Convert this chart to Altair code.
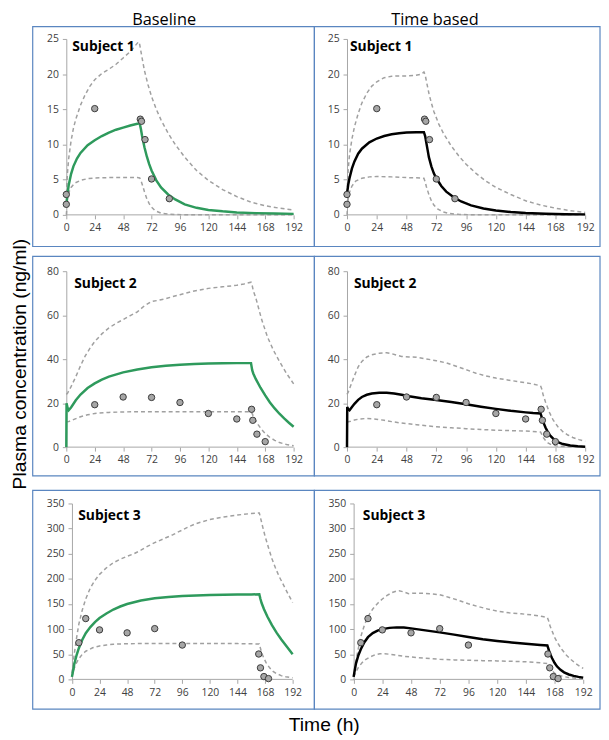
import altair as alt
import pandas as pd

FONT = "Open Sans"
TITLE_FONT = "Liberation Sans"
BLUE = "#5a86c0"
GREEN = "#2e9a5c"
BLACK = "#000000"
DASH_GRAY = "#a0a0a0"
AXIS_GRAY = "#a6a6a6"
LABEL_GRAY = "#404040"

COLUMN_TITLES = ["Baseline", "Time based"]
SUBJECT_LABELS = ["Subject 1", "Subject 2", "Subject 3"]
Y_TITLE = "Plasma concentration (ng/ml)"
X_TITLE = "Time (h)"
TIME_TICKS = [0, 24, 48, 72, 96, 120, 144, 168, 192]
Y_TICKS_S1 = [0, 5, 10, 15, 20, 25]
Y_TICKS_S2 = [0, 20, 40, 60, 80]
Y_TICKS_S3 = [0, 50, 100, 150, 200, 250, 300, 350]

# observed concentrations (same for both columns)
S1_OBS_T = [0, 0, 24, 62.5, 63.5, 66.5, 72, 87]
S1_OBS_C = [1.5, 2.9, 15.1, 13.6, 13.3, 10.7, 5.1, 2.3]
S2_OBS_T = [24, 48, 72, 96, 120, 144, 156.5, 157.5, 161, 168]
S2_OBS_C = [19.3, 22.8, 22.6, 20.3, 15.3, 12.8, 17.2, 12.2, 5.9, 2.5]
S3_OBS_T = [6, 12, 24, 48, 72, 96, 162.5, 164, 167, 171]
S3_OBS_C = [73, 121, 98.5, 92.6, 101, 68.3, 50.5, 23, 5.6, 1.6]

# model curves as (time, concentration)
S1_BASE_MEAN = [(0, 1.5), (1, 3.0), (2, 4.2), (4, 5.8), (6, 6.9), (9, 8.0), (12, 8.8), (18, 9.9),
                (24, 10.6), (30, 11.2), (36, 11.7), (42, 12.1), (48, 12.4), (54, 12.7), (60, 12.95),
                (62, 13.0), (63, 12.2), (64, 11.2), (66, 9.6), (68, 8.3), (70, 7.2), (72, 6.3),
                (76, 4.9), (80, 3.9), (86, 2.9), (92, 2.2), (100, 1.5), (110, 1.0), (120, 0.7),
                (132, 0.5), (144, 0.35), (160, 0.25), (176, 0.18), (192, 0.14)]
S1_BASE_UPPER = [(0, 3), (1, 6), (2, 8), (4, 10.5), (6, 12.3), (8, 13.6), (12, 15.6), (16, 17.1),
                 (20, 18.3), (24, 19.2), (30, 20.1), (36, 20.7), (42, 21.4), (48, 22.3), (54, 23.2),
                 (58, 24.0), (61, 24.6), (62, 24.2), (64, 22.3), (66, 20.5), (69, 18.5), (72, 16.8),
                 (76, 15.0), (80, 13.5), (86, 11.6), (92, 10.0), (100, 8.2), (110, 6.3), (120, 4.9),
                 (132, 3.6), (144, 2.6), (156, 1.8), (168, 1.3), (180, 0.95), (192, 0.7)]
S1_BASE_LOWER = [(0, 0), (1, 2.3), (2, 3.1), (4, 3.9), (7, 4.5), (12, 4.9), (18, 5.15), (24, 5.25),
                 (36, 5.3), (48, 5.3), (60, 5.3), (62, 5.25), (63, 4.9), (64, 4.4), (66, 3.3),
                 (68, 2.3), (70, 1.6), (72, 1.1), (75, 0.6), (80, 0.25), (88, 0.08), (100, 0.02),
                 (192, 0)]
S1_TIME_MEAN = [(0, 3.0), (1, 4.3), (2, 5.2), (4, 6.6), (6, 7.6), (9, 8.7), (12, 9.4), (18, 10.3),
                (24, 10.85), (30, 11.2), (36, 11.45), (42, 11.6), (48, 11.7), (56, 11.75), (62, 11.75),
                (63, 11.2), (64, 10.2), (65, 9.2), (66, 8.2), (68, 6.9), (70, 5.9), (72, 5.2),
                (76, 4.1), (80, 3.3), (86, 2.5), (92, 1.9), (100, 1.35), (110, 0.9), (120, 0.62),
                (132, 0.4), (144, 0.26), (160, 0.15), (176, 0.1), (192, 0.07)]
S1_TIME_UPPER = [(0, 3), (1, 6.5), (2, 8.5), (4, 10.8), (6, 12.5), (9, 14.4), (12, 15.9), (16, 17.3),
                 (20, 18.3), (24, 18.9), (30, 19.5), (36, 19.7), (42, 19.75), (48, 19.75), (54, 19.8),
                 (60, 20.0), (62, 20.3), (63, 19.9), (64, 19.0), (66, 17.3), (68, 15.9), (70, 14.7),
                 (74, 12.9), (78, 11.5), (84, 9.8), (90, 8.4), (96, 7.2), (104, 5.9), (112, 4.8),
                 (120, 3.9), (132, 2.9), (144, 2.0), (156, 1.4), (168, 0.95), (180, 0.6), (192, 0.35)]
S1_TIME_LOWER = [(0, 0), (1, 2.3), (2, 3.2), (4, 4.1), (7, 4.8), (12, 5.2), (18, 5.4), (24, 5.45),
                 (36, 5.4), (48, 5.3), (60, 5.25), (62, 5.2), (63, 4.7), (64, 4.0), (66, 2.9),
                 (68, 2.0), (70, 1.4), (73, 0.85), (77, 0.45), (82, 0.2), (90, 0.08), (100, 0.02),
                 (192, 0)]

S2_BASE_MEAN = [(0, 0), (0.2, 20), (1, 18), (2, 16.8), (4, 18.0), (8, 21.3), (12, 23.9), (18, 26.9),
                (24, 29.0), (30, 30.7), (36, 32.1), (48, 34.0), (60, 35.3), (72, 36.3), (84, 37.0),
                (96, 37.5), (108, 37.8), (120, 38.0), (132, 38.1), (144, 38.2), (156, 38.2),
                (157, 35.0), (158, 33.4), (160, 31.0), (164, 27.0), (168, 23.5), (172, 20.3),
                (176, 17.6), (180, 15.2), (184, 13.1), (188, 11.1), (192, 9.3)]
S2_BASE_UPPER = [(0, 24), (1, 24.5), (2, 25.5), (4, 27.5), (8, 32), (12, 37), (16, 41.5), (20, 45),
                 (24, 48), (30, 51.5), (36, 54.2), (42, 56.3), (48, 58), (54, 59.8), (60, 61.5),
                 (66, 64.3), (72, 66.2), (78, 66.8), (84, 67.5), (90, 68.5), (96, 69.3), (108, 71.0),
                 (120, 72.2), (132, 72.9), (144, 73.6), (150, 74.2), (156, 75.0), (157, 73.5),
                 (158, 71), (160, 68), (165, 58), (170, 50), (175, 44), (180, 39), (186, 33.5),
                 (192, 28.8)]
S2_BASE_LOWER = [(0, 11.5), (2, 11.6), (6, 12.5), (12, 13.8), (18, 14.7), (24, 15.3), (36, 15.8),
                 (48, 16.0), (60, 16.1), (156, 16.1), (157, 15.2), (158, 14), (160, 12), (162, 10.2),
                 (165, 8.0), (168, 6.2), (172, 4.4), (176, 3.1), (180, 2.1), (186, 1.2), (192, 0.6)]
S2_TIME_MEAN = [(0, 0), (0.2, 18.2), (1, 17.2), (2, 16.8), (4, 18.3), (6, 19.7), (9, 21.5), (12, 22.8),
                (16, 23.8), (20, 24.4), (26, 24.7), (32, 24.7), (38, 24.4), (44, 23.8), (50, 23.1),
                (60, 22.2), (72, 21.4), (84, 20.5), (96, 19.5), (108, 18.4), (120, 17.4), (132, 16.5),
                (144, 15.8), (150, 15.5), (156, 15.3), (157, 13.5), (158, 11.7), (160, 8.9),
                (162, 6.7), (164, 5.1), (167, 3.4), (170, 2.3), (174, 1.4), (180, 0.75), (186, 0.4),
                (192, 0.2)]
S2_TIME_UPPER = [(0, 24), (1, 25), (2, 26.5), (4, 29.5), (6, 32.5), (9, 36.5), (12, 39), (16, 41),
                 (20, 42), (26, 42.7), (32, 42.9), (36, 42.5), (40, 41.8), (44, 41.2), (50, 41.0),
                 (56, 40.9), (64, 40.1), (72, 39.3), (80, 38.3), (88, 36.8), (96, 35.2), (104, 33.6),
                 (112, 32.4), (120, 31.4), (132, 30.3), (144, 29.3), (150, 28.7), (156, 27.9),
                 (157, 26.5), (158, 24), (160, 20.5), (163, 16), (166, 12.5), (170, 9.3), (174, 7.0),
                 (178, 5.5), (182, 4.4), (187, 3.4), (192, 2.7)]
S2_TIME_LOWER = [(0, 11.4), (3, 11.8), (6, 12.3), (10, 12.8), (15, 13.0), (20, 12.9), (25, 12.6),
                 (30, 12.2), (36, 11.6), (42, 11.1), (48, 10.7), (56, 10.2), (64, 9.7), (72, 9.3),
                 (84, 8.8), (96, 8.4), (108, 8.0), (120, 7.7), (132, 7.5), (144, 7.3), (156, 6.9),
                 (157, 5.8), (158, 4.5), (160, 3.0), (162, 1.9), (165, 1.0), (170, 0.45), (180, 0.2),
                 (192, 0.1)]

S3_BASE_MEAN = [(0, 5), (1, 17), (2, 30), (4, 48), (6, 62), (9, 79), (12, 92), (16, 104), (20, 114),
                (24, 122), (30, 131), (36, 139), (42, 145), (48, 150), (60, 157), (72, 161.5),
                (84, 164), (96, 166), (108, 167), (120, 167.8), (132, 168.3), (144, 168.7), (156, 169),
                (163, 169.3), (164, 160), (165, 152), (167, 140), (170, 125), (174, 108), (178, 93),
                (182, 80), (186, 68), (189, 59), (192, 50)]
S3_BASE_UPPER = [(0, 12), (1, 30), (2, 50), (4, 82), (6, 110), (9, 138), (12, 160), (16, 182),
                 (20, 197), (24, 209), (30, 222), (36, 232), (42, 239), (48, 245), (54, 250), (60, 257),
                 (66, 265), (72, 272), (80, 280), (88, 288), (93, 294), (96, 297), (100, 302),
                 (108, 310), (120, 318), (132, 323), (144, 327), (156, 330), (163, 331), (164, 322),
                 (166, 303), (168, 285), (171, 262), (174, 240), (177, 222), (180, 206), (184, 188),
                 (188, 170), (192, 153)]
S3_BASE_LOWER = [(0, 5), (1, 14), (2, 22), (4, 33), (6, 41), (9, 50), (12, 56), (18, 63), (24, 66.5),
                 (30, 68.5), (36, 70), (48, 71), (72, 71.5), (96, 71.5), (120, 71.5), (144, 71.2),
                 (163, 70.5), (164, 62), (165, 53), (167, 42), (169, 33), (172, 23), (175, 16),
                 (178, 11.5), (182, 7.5), (186, 5.2), (192, 3.3)]
S3_TIME_MEAN = [(0, 5), (1, 19), (2, 32), (4, 48), (6, 60), (9, 74), (12, 84), (16, 92), (20, 97),
                (24, 100), (30, 102.5), (36, 103.5), (42, 103.2), (48, 101.5), (60, 97.5), (72, 93.5),
                (84, 89), (96, 84.5), (108, 80), (120, 76.5), (132, 73.5), (144, 71), (156, 68.5),
                (162, 67.5), (163, 60), (164, 52), (166, 42), (168, 33), (170, 26), (173, 19),
                (176, 14), (180, 9.8), (184, 7), (188, 5), (192, 3.5)]
S3_TIME_UPPER = [(0, 5), (1, 22), (2, 38), (4, 62), (6, 85), (9, 108), (12, 125), (16, 140),
                 (20, 151), (24, 160), (28, 167), (32, 172.5), (36, 176), (38, 176.5), (42, 174),
                 (46, 170.5), (50, 171.5), (56, 171.5), (64, 170.5), (72, 168.5), (80, 163), (88, 157),
                 (96, 150.5), (104, 145), (112, 140), (120, 136), (130, 132.5), (140, 130.5),
                 (150, 128), (158, 125), (162, 123), (163, 117), (164, 108), (166, 96), (168, 84),
                 (171, 71), (174, 60), (178, 48), (182, 39), (186, 31), (189, 26), (192, 21.7)]
S3_TIME_LOWER = [(0, 5), (2, 15), (4, 24), (7, 33), (10, 39.5), (14, 45), (18, 49), (22, 51),
                 (26, 51.2), (30, 50), (36, 48), (42, 46), (48, 44.5), (60, 42), (72, 40), (84, 38.8),
                 (96, 38), (108, 37.3), (120, 36.8), (132, 36), (144, 35), (156, 33), (162, 31.5),
                 (163, 27), (164, 23), (166, 17), (168, 12.5), (171, 8.5), (175, 5.8), (180, 3.8),
                 (186, 2.3), (192, 1.3)]


def curve_df(pairs, name):
    return pd.DataFrame({
        "t": [p[0] for p in pairs],
        "c": [p[1] for p in pairs],
        "s": name,
        "i": list(range(len(pairs))),
    })


def text_layer(label, x, y, size, weight="normal", align="left", baseline="alphabetic", angle=0,
               font=FONT):
    return alt.Chart(pd.DataFrame({"label": [label]})).mark_text(
        align=align, baseline=baseline, fontSize=size, fontWeight=weight,
        font=font, color=BLACK, angle=angle
    ).encode(x=alt.value(x), y=alt.value(y), text="label:N")


def spacer(x1, x2, y1, y2):
    # invisible rectangle that only reserves room at the left page edge
    return alt.Chart(pd.DataFrame({"a": [0]})).mark_rect(fillOpacity=0, strokeWidth=0).encode(
        x=alt.value(x1), x2=alt.value(x2), y=alt.value(y1), y2=alt.value(y2))


def panel(mean, upper, lower, obs_t, obs_c, line_color, y_ticks, width, x_min, y_offset,
          label, label_xy, box, extras):
    x_enc = alt.X("t:Q", scale=alt.Scale(domain=[x_min, 192], nice=False, zero=False),
                  axis=alt.Axis(values=TIME_TICKS, title=None, domain=False, labelFlush=False,
                                labelOverlap=False, format="d", labelPadding=4))
    y_enc = alt.Y("c:Q", scale=alt.Scale(domain=[0, y_ticks[-1]], nice=False),
                  axis=alt.Axis(values=y_ticks, title=None, offset=y_offset, format="d",
                                labelOverlap=False, labelPadding=4))
    axis_rule = alt.Chart(pd.DataFrame({"t": [0], "t2": [192], "c": [0]})).mark_rule(
        color=AXIS_GRAY, strokeWidth=1).encode(x=x_enc, x2="t2:Q", y=y_enc)
    bounds = pd.concat([curve_df(upper, "upper"), curve_df(lower, "lower")], ignore_index=True)
    dashed = alt.Chart(bounds).mark_line(strokeDash=[4, 3], strokeWidth=1.5, color=DASH_GRAY).encode(
        x=x_enc, y=y_enc, detail="s:N", order="i:Q")
    main = alt.Chart(curve_df(mean, "mean")).mark_line(color=line_color, strokeWidth=2.5).encode(
        x=x_enc, y=y_enc, order="i:Q")
    pts = alt.Chart(pd.DataFrame({"t": obs_t, "c": obs_c})).mark_point(
        shape="circle", filled=True, size=42, fill="#a6a6a6", stroke="#3c3c3c",
        strokeWidth=1, opacity=1).encode(x=x_enc, y=y_enc)
    lab = text_layer(label, label_xy[0], label_xy[1], 14, weight="bold")
    border = alt.Chart(pd.DataFrame({"a": [0]})).mark_rect(
        fillOpacity=0, stroke=BLUE, strokeWidth=1.2).encode(
        x=alt.value(box[0]), x2=alt.value(box[1]), y=alt.value(box[2]), y2=alt.value(box[3]))
    layers = [axis_rule, dashed, main, pts, lab, border] + extras
    return alt.layer(*layers).properties(width=width, height=178)


p11 = panel(S1_BASE_MEAN, S1_BASE_UPPER, S1_BASE_LOWER, S1_OBS_T, S1_OBS_C, GREEN, Y_TICKS_S1,
            230, 0, 0, SUBJECT_LABELS[0], (6, 12), (-34, 251, -12.5, 210),
            [text_layer(COLUMN_TITLES[0], 99, -14, 16.5, align="center")])
p12 = panel(S1_TIME_MEAN, S1_TIME_UPPER, S1_TIME_LOWER, S1_OBS_T, S1_OBS_C, BLACK, Y_TICKS_S1,
            241, 0, 0, SUBJECT_LABELS[0], (3, 12), (-33, 256, -12.5, 210),
            [text_layer(COLUMN_TITLES[1], 89, -14, 16.5, align="center")])
p21 = panel(S2_BASE_MEAN, S2_BASE_UPPER, S2_BASE_LOWER, S2_OBS_T, S2_OBS_C, GREEN, Y_TICKS_S2,
            230, 0, 0, SUBJECT_LABELS[1], (8, 17), (-34, 251, -15, 207),
            [spacer(-59, -58, 90, 92),
             text_layer(Y_TITLE, -46.5, 94, 19.5, align="center", baseline="middle", angle=270,
                        font=TITLE_FONT)])
p22 = panel(S2_TIME_MEAN, S2_TIME_UPPER, S2_TIME_LOWER, S2_OBS_T, S2_OBS_C, BLACK, Y_TICKS_S2,
            241, 0, 0, SUBJECT_LABELS[1], (7, 17), (-33, 256, -15, 207), [])
p31 = panel(S3_BASE_MEAN, S3_BASE_UPPER, S3_BASE_LOWER, S3_OBS_T, S3_OBS_C, GREEN, Y_TICKS_S3,
            229, -4.9, -5.7, SUBJECT_LABELS[2], (12, 17), (-34, 251, -13.3, 208),
            [text_layer(X_TITLE, 261, 230, 19.5, align="center", font=TITLE_FONT)])
p32 = panel(S3_TIME_MEAN, S3_TIME_UPPER, S3_TIME_LOWER, S3_OBS_T, S3_OBS_C, BLACK, Y_TICKS_S3,
            239, -5.54, -6.7, SUBJECT_LABELS[2], (16, 17), (-33, 256, -13.3, 208), [])

chart = alt.concat(p11, p12, p21, p22, p31, p32, columns=2,
                   spacing={"row": 57, "column": 54}, bounds="flush").properties(
    padding=0, background="white"
).configure_view(strokeWidth=0).configure_axis(
    labelFont=FONT, labelFontSize=10.5, labelColor=LABEL_GRAY, domainColor=AXIS_GRAY,
    tickColor=AXIS_GRAY, tickSize=4, grid=False, domainWidth=1, tickWidth=1,
    labelOverlap=False, labelFlush=False
)

chart.save("out.html", embed_options={"renderer": "svg", "actions": False})
